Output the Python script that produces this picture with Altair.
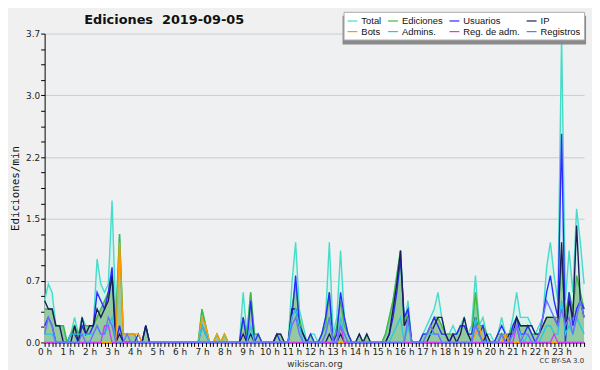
import altair as alt
import pandas as pd

# 10-minute bins, 0:00 .. 24:00 (145 points), values in edits/min
total = [
    0.5, 0.7, 0.6, 0.2, 0.2, 0.2,   # 0h
    0.0, 0.1, 0.3, 0.1, 0.3, 0.2,   # 1h
    0.2, 0.2, 1.0, 0.7, 0.6, 0.7,   # 2h
    1.7, 0.3, 1.3, 0.1, 0.1, 0.1,   # 3h
    0.1, 0.0, 0.0, 0.2, 0.0, 0.0,   # 4h
    0.0, 0.0, 0.0, 0.0, 0.0, 0.0,   # 5h
    0.0, 0.0, 0.0, 0.0, 0.0, 0.0,   # 6h
    0.4, 0.2, 0.0, 0.0, 0.1, 0.0,   # 7h
    0.1, 0.0, 0.0, 0.0, 0.0, 0.6,   # 8h
    0.1, 0.6, 0.1, 0.1, 0.0, 0.0,   # 9h
    0.0, 0.0, 0.1, 0.1, 0.0, 0.0,   # 10h
    0.7, 1.2, 0.4, 0.2, 0.0, 0.1,   # 11h
    0.1, 0.0, 0.1, 0.3, 1.2, 0.1,   # 12h
    0.3, 1.1, 0.3, 0.1, 0.0, 0.0,   # 13h
    0.1, 0.0, 0.1, 0.0, 0.0, 0.0,   # 14h
    0.0, 0.1, 0.3, 0.5, 0.8, 1.1,   # 15h
    0.2, 0.5, 0.0, 0.0, 0.0, 0.1,   # 16h
    0.2, 0.3, 0.4, 0.6, 0.3, 0.1,   # 17h
    0.1, 0.2, 0.1, 0.2, 0.3, 0.1,   # 18h
    0.2, 0.8, 0.2, 0.3, 0.1, 0.1,   # 19h
    0.0, 0.1, 0.3, 0.1, 0.1, 0.3,   # 20h
    0.6, 0.3, 0.3, 0.3, 0.2, 0.1,   # 21h
    0.2, 0.3, 0.9, 1.2, 0.8, 0.5,   # 22h
    3.7, 0.5, 1.1, 0.6, 1.6, 1.2,   # 23h
    0.7,
]
ediciones = [
    0.4, 0.4, 0.4, 0.2, 0.2, 0.2,
    0.0, 0.1, 0.2, 0.1, 0.2, 0.2,
    0.2, 0.2, 0.3, 0.4, 0.5, 0.6,
    0.8, 0.2, 1.3, 0.1, 0.1, 0.1,
    0.1, 0.0, 0.0, 0.2, 0.0, 0.0,
    0.0, 0.0, 0.0, 0.0, 0.0, 0.0,
    0.0, 0.0, 0.0, 0.0, 0.0, 0.0,
    0.4, 0.2, 0.0, 0.0, 0.1, 0.0,
    0.1, 0.0, 0.0, 0.0, 0.0, 0.3,
    0.1, 0.6, 0.1, 0.1, 0.0, 0.0,
    0.0, 0.0, 0.1, 0.1, 0.0, 0.0,
    0.4, 0.7, 0.3, 0.1, 0.0, 0.1,
    0.0, 0.0, 0.1, 0.2, 0.6, 0.0,
    0.2, 0.5, 0.2, 0.1, 0.0, 0.0,
    0.1, 0.0, 0.1, 0.0, 0.0, 0.0,
    0.0, 0.1, 0.3, 0.5, 0.8, 1.1,
    0.2, 0.4, 0.0, 0.0, 0.0, 0.1,
    0.1, 0.2, 0.3, 0.3, 0.2, 0.1,
    0.1, 0.1, 0.1, 0.2, 0.2, 0.1,
    0.1, 0.6, 0.2, 0.2, 0.1, 0.0,
    0.0, 0.1, 0.1, 0.1, 0.1, 0.2,
    0.3, 0.2, 0.2, 0.2, 0.1, 0.1,
    0.1, 0.2, 0.3, 0.3, 0.3, 0.3,
    1.0, 0.3, 0.6, 0.4, 0.8, 0.6,
    0.4,
]
usuarios = [
    0.2, 0.3, 0.2, 0.0, 0.0, 0.0,
    0.0, 0.1, 0.1, 0.0, 0.2, 0.1,
    0.1, 0.2, 0.6, 0.5, 0.4, 0.6,
    0.9, 0.0, 0.2, 0.0, 0.0, 0.0,
    0.0, 0.1, 0.0, 0.2, 0.0, 0.0,
    0.0, 0.0, 0.0, 0.0, 0.0, 0.0,
    0.0, 0.0, 0.0, 0.0, 0.0, 0.0,
    0.2, 0.1, 0.0, 0.0, 0.0, 0.0,
    0.0, 0.0, 0.0, 0.0, 0.0, 0.3,
    0.0, 0.5, 0.0, 0.1, 0.0, 0.0,
    0.0, 0.0, 0.1, 0.0, 0.0, 0.0,
    0.3, 0.8, 0.2, 0.1, 0.0, 0.1,
    0.0, 0.0, 0.1, 0.3, 0.6, 0.0,
    0.1, 0.6, 0.3, 0.1, 0.0, 0.0,
    0.0, 0.0, 0.0, 0.0, 0.0, 0.0,
    0.0, 0.0, 0.1, 0.3, 0.6, 1.0,
    0.3, 0.4, 0.0, 0.0, 0.0, 0.1,
    0.1, 0.2, 0.3, 0.2, 0.1, 0.1,
    0.0, 0.1, 0.1, 0.2, 0.2, 0.1,
    0.1, 0.3, 0.1, 0.2, 0.0, 0.0,
    0.0, 0.1, 0.2, 0.1, 0.0, 0.2,
    0.3, 0.1, 0.1, 0.2, 0.1, 0.0,
    0.1, 0.3, 0.6, 0.8, 0.5, 0.3,
    2.5, 0.0, 0.6, 0.2, 0.4, 0.5,
    0.4,
]
ip = [
    0.5, 0.4, 0.4, 0.2, 0.2, 0.0,
    0.0, 0.0, 0.2, 0.0, 0.3, 0.1,
    0.2, 0.2, 0.4, 0.3, 0.4, 0.5,
    0.8, 0.0, 0.1, 0.0, 0.0, 0.0,
    0.0, 0.0, 0.0, 0.2, 0.0, 0.0,
    0.0, 0.0, 0.0, 0.0, 0.0, 0.0,
    0.0, 0.0, 0.0, 0.0, 0.0, 0.0,
    0.0, 0.0, 0.0, 0.0, 0.0, 0.0,
    0.0, 0.0, 0.0, 0.0, 0.0, 0.1,
    0.0, 0.1, 0.0, 0.0, 0.0, 0.0,
    0.0, 0.0, 0.1, 0.1, 0.0, 0.0,
    0.4, 0.4, 0.2, 0.1, 0.0, 0.0,
    0.0, 0.0, 0.0, 0.0, 0.1, 0.0,
    0.0, 0.1, 0.0, 0.0, 0.0, 0.0,
    0.1, 0.0, 0.1, 0.0, 0.0, 0.0,
    0.0, 0.0, 0.1, 0.4, 0.7, 1.1,
    0.2, 0.3, 0.0, 0.0, 0.0, 0.0,
    0.0, 0.1, 0.2, 0.3, 0.3, 0.1,
    0.0, 0.1, 0.0, 0.1, 0.3, 0.1,
    0.0, 0.3, 0.1, 0.0, 0.1, 0.0,
    0.0, 0.0, 0.1, 0.0, 0.1, 0.1,
    0.3, 0.2, 0.2, 0.2, 0.2, 0.1,
    0.1, 0.2, 0.3, 0.3, 0.3, 0.2,
    1.2, 0.1, 0.5, 0.3, 1.4, 0.5,
    0.3,
]
bots = [
    0.0, 0.0, 0.0, 0.0, 0.0, 0.0,
    0.0, 0.0, 0.0, 0.0, 0.0, 0.0,
    0.0, 0.0, 0.0, 0.0, 0.0, 0.0,
    0.0, 0.0, 1.2, 0.1, 0.1, 0.1,
    0.1, 0.1, 0.0, 0.0, 0.0, 0.0,
    0.0, 0.0, 0.0, 0.0, 0.0, 0.0,
    0.0, 0.0, 0.0, 0.0, 0.0, 0.0,
    0.3, 0.2, 0.0, 0.0, 0.1, 0.0,
    0.1, 0.0, 0.0, 0.0, 0.0, 0.0,
    0.0, 0.0, 0.0, 0.0, 0.0, 0.0,
    0.0, 0.0, 0.0, 0.0, 0.0, 0.0,
    0.0, 0.0, 0.0, 0.0, 0.0, 0.0,
    0.0, 0.0, 0.0, 0.0, 0.0, 0.0,
    0.0, 0.0, 0.0, 0.0, 0.0, 0.0,
    0.0, 0.0, 0.0, 0.0, 0.0, 0.0,
    0.0, 0.0, 0.0, 0.0, 0.0, 0.0,
    0.0, 0.0, 0.0, 0.0, 0.0, 0.0,
    0.0, 0.0, 0.0, 0.0, 0.0, 0.0,
    0.0, 0.0, 0.0, 0.0, 0.0, 0.0,
    0.0, 0.1, 0.2, 0.0, 0.0, 0.0,
    0.0, 0.0, 0.0, 0.1, 0.0, 0.0,
    0.0, 0.0, 0.0, 0.0, 0.0, 0.0,
    0.0, 0.0, 0.0, 0.0, 0.0, 0.0,
    0.0, 0.0, 0.0, 0.0, 0.0, 0.0,
    0.0,
]
admins = [
    0.1, 0.1, 0.1, 0.0, 0.0, 0.0,
    0.0, 0.1, 0.1, 0.1, 0.1, 0.1,
    0.1, 0.1, 0.2, 0.1, 0.1, 0.2,
    0.3, 0.0, 0.0, 0.0, 0.0, 0.0,
    0.0, 0.0, 0.0, 0.0, 0.0, 0.0,
    0.0, 0.0, 0.0, 0.0, 0.0, 0.0,
    0.0, 0.0, 0.0, 0.0, 0.0, 0.0,
    0.2, 0.1, 0.0, 0.0, 0.0, 0.0,
    0.0, 0.0, 0.0, 0.0, 0.0, 0.0,
    0.0, 0.2, 0.0, 0.0, 0.0, 0.0,
    0.0, 0.0, 0.0, 0.0, 0.0, 0.0,
    0.3, 0.4, 0.2, 0.0, 0.0, 0.0,
    0.0, 0.0, 0.0, 0.1, 0.3, 0.0,
    0.0, 0.3, 0.1, 0.0, 0.0, 0.0,
    0.0, 0.0, 0.0, 0.0, 0.0, 0.0,
    0.0, 0.0, 0.0, 0.1, 0.2, 0.3,
    0.0, 0.2, 0.0, 0.0, 0.0, 0.0,
    0.1, 0.1, 0.1, 0.1, 0.0, 0.0,
    0.0, 0.0, 0.0, 0.0, 0.0, 0.0,
    0.0, 0.3, 0.1, 0.0, 0.0, 0.0,
    0.0, 0.0, 0.1, 0.0, 0.0, 0.1,
    0.2, 0.1, 0.0, 0.1, 0.0, 0.0,
    0.0, 0.1, 0.2, 0.2, 0.1, 0.1,
    0.5, 0.1, 0.2, 0.1, 0.3, 0.2,
    0.1,
]
reg_adm = [
    0.0, 0.0, 0.0, 0.0, 0.0, 0.0,
    0.0, 0.0, 0.0, 0.0, 0.0, 0.0,
    0.0, 0.0, 0.0, 0.0, 0.2, 0.2,
    0.0, 0.0, 0.0, 0.0, 0.0, 0.0,
    0.0, 0.0, 0.0, 0.0, 0.0, 0.0,
    0.0, 0.0, 0.0, 0.0, 0.0, 0.0,
    0.0, 0.0, 0.0, 0.0, 0.0, 0.0,
    0.0, 0.0, 0.0, 0.0, 0.0, 0.0,
    0.0, 0.0, 0.0, 0.0, 0.0, 0.0,
    0.0, 0.0, 0.0, 0.0, 0.0, 0.0,
    0.0, 0.0, 0.0, 0.0, 0.0, 0.0,
    0.0, 0.0, 0.0, 0.0, 0.0, 0.0,
    0.0, 0.0, 0.0, 0.0, 0.0, 0.0,
    0.0, 0.2, 0.0, 0.0, 0.0, 0.0,
    0.0, 0.0, 0.0, 0.0, 0.0, 0.0,
    0.0, 0.0, 0.0, 0.0, 0.0, 0.0,
    0.0, 0.0, 0.0, 0.0, 0.0, 0.0,
    0.0, 0.0, 0.0, 0.0, 0.0, 0.0,
    0.0, 0.0, 0.0, 0.0, 0.0, 0.0,
    0.0, 0.0, 0.0, 0.0, 0.0, 0.0,
    0.0, 0.0, 0.0, 0.0, 0.0, 0.0,
    0.2, 0.0, 0.0, 0.0, 0.0, 0.0,
    0.0, 0.0, 0.0, 0.0, 0.1, 0.0,
    0.0, 0.0, 0.0, 0.0, 0.0, 0.0,
    0.0,
]
registros = [
    0.1, 0.3, 0.2, 0.0, 0.0, 0.0,
    0.0, 0.0, 0.0, 0.0, 0.1, 0.0,
    0.0, 0.1, 0.2, 0.1, 0.1, 0.3,
    0.2, 0.0, 0.0, 0.0, 0.1, 0.0,
    0.0, 0.0, 0.0, 0.0, 0.0, 0.0,
    0.0, 0.0, 0.0, 0.0, 0.0, 0.0,
    0.0, 0.0, 0.0, 0.0, 0.0, 0.0,
    0.0, 0.0, 0.0, 0.0, 0.0, 0.0,
    0.0, 0.0, 0.0, 0.0, 0.0, 0.0,
    0.0, 0.0, 0.0, 0.0, 0.0, 0.0,
    0.0, 0.0, 0.0, 0.0, 0.0, 0.0,
    0.2, 0.3, 0.1, 0.0, 0.0, 0.0,
    0.0, 0.0, 0.0, 0.1, 0.3, 0.0,
    0.0, 0.2, 0.1, 0.0, 0.0, 0.0,
    0.0, 0.0, 0.0, 0.0, 0.0, 0.0,
    0.0, 0.0, 0.0, 0.0, 0.0, 0.0,
    0.0, 0.3, 0.0, 0.0, 0.0, 0.0,
    0.1, 0.2, 0.1, 0.1, 0.0, 0.0,
    0.0, 0.0, 0.0, 0.0, 0.0, 0.0,
    0.0, 0.2, 0.1, 0.0, 0.0, 0.0,
    0.0, 0.0, 0.1, 0.0, 0.0, 0.1,
    0.2, 0.0, 0.1, 0.1, 0.0, 0.0,
    0.1, 0.3, 0.5, 0.4, 0.3, 0.2,
    0.4, 0.2, 0.3, 0.1, 0.3, 0.5,
    0.3,
]

series_names = ["Total", "Ediciones", "Usuarios", "IP",
                "Bots", "Admins.", "Reg. de adm.", "Registros"]
series_values = [total, ediciones, usuarios, ip, bots, admins, reg_adm, registros]
series_colors = ["#45dcc8", "#3fb83f", "#2b2bff", "#1c1c5c",
                 "#ff9a00", "#28c6e6", "#d23cf0", "#7070ff"]

title_text = "Ediciones\u00a0\u00a02019-09-05"
source_text = "wikiscan.org"
license_text = "CC BY-SA 3.0"

hours = [i / 6 for i in range(len(total))]

y_ticks = [0.0, 0.185, 0.37, 0.555, 0.74, 0.925, 1.11, 1.295, 1.48, 1.665,
           1.85, 2.035, 2.22, 2.405, 2.59, 2.775, 2.96, 3.145, 3.33, 3.515, 3.7]
x_ticks = [i / 6 for i in range(145)]

rows = []
for name, vals in zip(series_names, series_values):
    for h, v in zip(hours, vals):
        rows.append({"h": h, "v": v, "serie": name})
df = pd.DataFrame(rows)
df_total = pd.DataFrame({"h": hours, "v": total})
df_edic = pd.DataFrame({"h": hours, "v": ediciones})

FONT = "DejaVu Sans"
LFONT = "Liberation Sans"

x_enc = alt.X(
    "h:Q",
    scale=alt.Scale(domain=[0, 24], nice=False, zero=False),
    axis=alt.Axis(
        values=x_ticks,
        labelExpr="(abs(datum.value - round(datum.value)) < 0.01 && datum.value < 23.5) ? round(datum.value) + ' h' : ''",
        labelOverlap=False, labelFlush=False, grid=False,
        tickSize=4, tickColor="#000", domainColor="#000",
        labelFont=FONT, labelFontSize=9, labelColor="#222", labelPadding=1,
        title=source_text, titleFont=FONT, titleFontSize=9,
        titleFontWeight="normal", titleColor="#333", titlePadding=3,
    ),
)
y_enc = alt.Y(
    "v:Q",
    scale=alt.Scale(domain=[0, 3.7], nice=False),
    axis=alt.Axis(
        values=y_ticks,
        labelExpr="abs(datum.value/0.74 - round(datum.value/0.74)) < 0.01 ? format(datum.value, '.1f') : ''",
        labelOverlap=False,
        gridOpacity={"condition": {"test": "abs(datum.value/0.74 - round(datum.value/0.74)) < 0.01", "value": 1}, "value": 0},
        gridColor="#cccccc",
        tickSize=4, tickColor="#000", domainColor="#000",
        labelFont=FONT, labelFontSize=9, labelColor="#222", labelPadding=1,
        title="Ediciones/min", titleFont="DejaVu Sans Mono", titleFontSize=11,
        titleFontWeight="normal", titleColor="#111", titlePadding=5,
    ),
)

area_total = alt.Chart(df_total).mark_area(color="#d4f1ec", opacity=0.9).encode(x=x_enc, y=y_enc)
area_edic = alt.Chart(df_edic).mark_area(color="#8cc597", opacity=0.9).encode(x=x_enc, y=y_enc)

lines = alt.Chart(df).mark_line(strokeWidth=1.4).encode(
    x=x_enc, y=y_enc,
    color=alt.Color(
        "serie:N",
        scale=alt.Scale(domain=series_names, range=series_colors),
        legend=alt.Legend(
            title=None, orient="none", legendX=302, legendY=-22,
            columns=4, direction="horizontal", gridAlign="each",
            fillColor="#ffffff", strokeColor="#aaaaaa", padding=3,
            symbolType="stroke", symbolSize=100, symbolStrokeWidth=1.2,
            labelFont=LFONT, labelFontSize=9.5, labelColor="#111",
            columnPadding=3, rowPadding=0, symbolOffset=0, labelOffset=3,
            labelLimit=90,
        ),
    ),
)

# legend drop shadow
shadow = alt.Chart(pd.DataFrame({"t": [0]})).mark_rect(color="#8a8a8a").encode(
    x=alt.value(301), x2=alt.value(547), y=alt.value(-18), y2=alt.value(11)
)

title = alt.Chart(pd.DataFrame({"t": [title_text]})).mark_text(
    align="left", baseline="alphabetic", fontSize=13, fontWeight="bold", font=FONT, color="#111"
).encode(text="t:N", x=alt.value(40), y=alt.value(-10))

cc = alt.Chart(pd.DataFrame({"t": [license_text]})).mark_text(
    align="right", baseline="middle", fontSize=7, font=FONT, color="#333"
).encode(text="t:N", x=alt.value(545), y=alt.value(331))

chart = alt.layer(area_total, area_edic, lines, shadow, title, cc).properties(
    width=545, height=312,
    padding={"left": 37, "top": 24, "right": 8, "bottom": 26},
    autosize=alt.AutoSizeParams(type="none"),
    background="#f0f0f0",
).configure_view(fill="#eef0f2", stroke=None)

chart.save("out.html", embed_options={"renderer": "svg", "actions": False})
